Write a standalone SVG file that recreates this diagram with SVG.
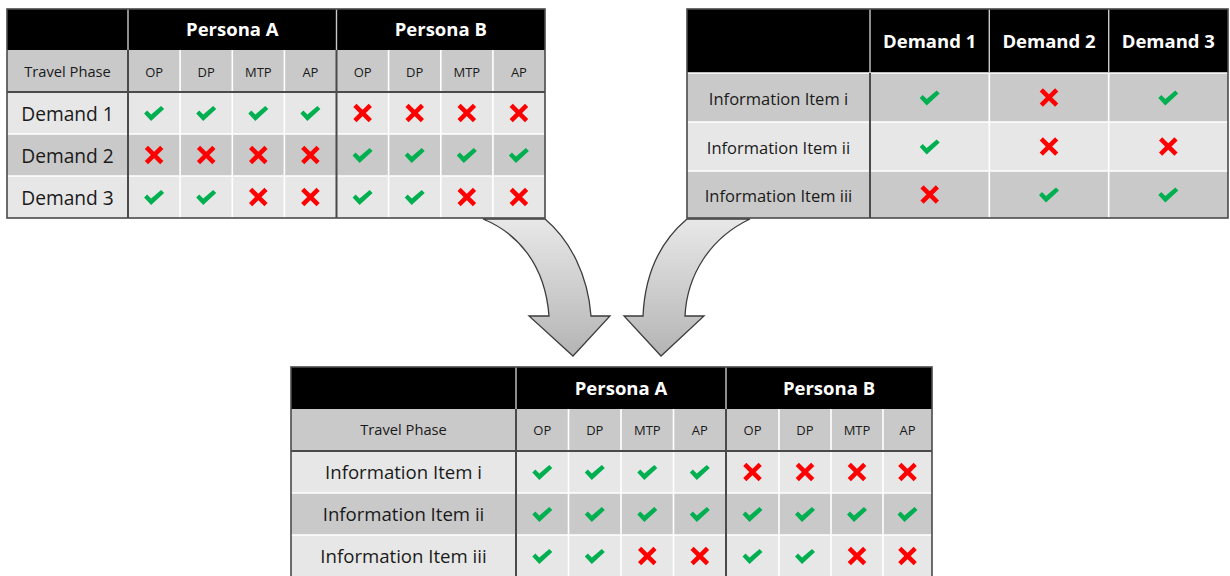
<svg xmlns="http://www.w3.org/2000/svg" width="1230" height="576" viewBox="0 0 1230 576">
  <style>
    text { font-family: "Open Sans", "Liberation Sans", sans-serif; fill: #1a1a1a; text-anchor: middle; }
    .hd { font-weight: 700; font-size: 18.5px; fill: #ffffff; }
    .tp { font-size: 14.7px; }
    .ph { font-size: 13px; }
    .lbA { font-size: 19.2px; }
    .lbB { font-size: 16.5px; }
    .lbC { font-size: 18.6px; }
    .blk { fill: #000000; }
    .mid { fill: #c9c9c9; }
    .lit { fill: #e7e7e7; }
    .wl { stroke: #ffffff; stroke-width: 1.6; fill: none; }
    .dl { stroke: #4a4a4a; stroke-width: 2; fill: none; }
    .hl { stroke: #c8c8c8; stroke-width: 1.4; fill: none; }
    .frame { stroke: #4a4a4a; stroke-width: 1.6; fill: none; }
    .arrow { fill: url(#arrowFill); stroke: #3c3c3c; stroke-width: 1.3; stroke-linejoin: miter; }
  </style>
  <defs>
    <linearGradient id="arrowFill" gradientUnits="userSpaceOnUse" x1="0" y1="219" x2="0" y2="356">
      <stop offset="0" stop-color="#e8e8e8"/>
      <stop offset="1" stop-color="#b4b4b4"/>
    </linearGradient>
    <!-- green tick -->
    <path id="ok" d="M-10,0 L-7,-3 L-3,1 L7,-7.5 L10,-4.5 L-3,7.5 Z" fill="#00b050"/>
    <!-- red cross -->
    <path id="no" d="M-7.7,-7.7 L7.7,7.7 M7.7,-7.7 L-7.7,7.7" stroke="#ff0000" stroke-width="4.5" fill="none"/>
  </defs>

  <rect width="1230" height="576" fill="#ffffff"/>

  <!-- curved arrows feeding the combined table -->
  <g id="connectors">
    <path class="arrow" d="M483,219 C515,232 545,262 549,316 L529,316 L573,356 L610,316 L591,316 C588,275 570,240 545,219 Z"/>
    <path class="arrow" d="M687,219 C662,240 645,272 643,316 L624,316 L661,356 L704,316 L685,316 C687,275 710,238 750,219 Z"/>
  </g>

  <!-- demands per persona and travel phase -->
  <g id="demand-by-persona">
    <rect class="blk" x="7" y="9" width="538" height="41"/>
    <rect class="mid" x="7" y="50" width="538" height="42"/>
    <rect class="lit" x="7" y="92" width="538" height="42"/>
    <rect class="mid" x="7" y="134" width="538" height="42"/>
    <rect class="lit" x="7" y="176" width="538" height="42"/>
    <path class="wl" d="M7,134 H545 M7,176 H545 M180.1,50 V218 M232.3,50 V218 M284.4,50 V218 M388.6,50 V218 M440.8,50 V218 M492.9,50 V218"/>
    <path class="hl" d="M128,9 V50 M336.5,9 V50"/>
    <path class="dl" d="M7,92 H545 M128,50 V218 M336.5,50 V218"/>
    <rect class="frame" x="7" y="9" width="538" height="209"/>
    <text class="hd" x="232.3" y="36">Persona A</text>
    <text class="hd" x="440.8" y="36">Persona B</text>
    <text class="tp" x="67.5" y="77">Travel Phase</text>
    <text class="ph" x="154.1" y="77">OP</text>
    <text class="ph" x="206.2" y="77">DP</text>
    <text class="ph" x="258.3" y="77">MTP</text>
    <text class="ph" x="310.4" y="77">AP</text>
    <text class="ph" x="362.6" y="77">OP</text>
    <text class="ph" x="414.7" y="77">DP</text>
    <text class="ph" x="466.8" y="77">MTP</text>
    <text class="ph" x="518.9" y="77">AP</text>
    <text class="lbA" x="67.5" y="121">Demand 1</text>
    <text class="lbA" x="67.5" y="163">Demand 2</text>
    <text class="lbA" x="67.5" y="205">Demand 3</text>
    <use href="#ok" x="154.1" y="113.5"/><use href="#ok" x="206.2" y="113.5"/><use href="#ok" x="258.3" y="113.5"/><use href="#ok" x="310.4" y="113.5"/>
    <use href="#no" x="362.6" y="113"/><use href="#no" x="414.7" y="113"/><use href="#no" x="466.8" y="113"/><use href="#no" x="518.9" y="113"/>
    <use href="#no" x="154.1" y="155"/><use href="#no" x="206.2" y="155"/><use href="#no" x="258.3" y="155"/><use href="#no" x="310.4" y="155"/>
    <use href="#ok" x="362.6" y="155.5"/><use href="#ok" x="414.7" y="155.5"/><use href="#ok" x="466.8" y="155.5"/><use href="#ok" x="518.9" y="155.5"/>
    <use href="#ok" x="154.1" y="197.5"/><use href="#ok" x="206.2" y="197.5"/><use href="#no" x="258.3" y="197"/><use href="#no" x="310.4" y="197"/>
    <use href="#ok" x="362.6" y="197.5"/><use href="#ok" x="414.7" y="197.5"/><use href="#no" x="466.8" y="197"/><use href="#no" x="518.9" y="197"/>
  </g>

  <!-- information items per demand -->
  <g id="items-by-demand">
    <rect class="blk" x="687" y="9" width="541" height="64"/>
    <rect class="mid" x="687" y="73" width="541" height="49"/>
    <rect class="lit" x="687" y="122" width="541" height="49"/>
    <rect class="mid" x="687" y="171" width="541" height="47"/>
    <path class="wl" d="M687,73 H1228 M687,122 H1228 M687,171 H1228 M989.3,73 V218 M1108.7,73 V218"/>
    <path class="hl" d="M870,9 V73 M989.3,9 V73 M1108.7,9 V73"/>
    <path class="dl" d="M870,73 V218"/>
    <rect class="frame" x="687" y="9" width="541" height="209"/>
    <text class="hd" x="929.7" y="48">Demand 1</text>
    <text class="hd" x="1049" y="48">Demand 2</text>
    <text class="hd" x="1168.3" y="48">Demand 3</text>
    <text class="lbB" x="778.5" y="105">Information Item i</text>
    <text class="lbB" x="778.5" y="154">Information Item ii</text>
    <text class="lbB" x="778.5" y="202">Information Item iii</text>
    <use href="#ok" x="929.7" y="98"/><use href="#no" x="1049" y="97.5"/><use href="#ok" x="1168.3" y="98"/>
    <use href="#ok" x="929.7" y="147"/><use href="#no" x="1049" y="146.5"/><use href="#no" x="1168.3" y="146.5"/>
    <use href="#no" x="929.7" y="194.5"/><use href="#ok" x="1049" y="195"/><use href="#ok" x="1168.3" y="195"/>
  </g>

  <!-- information items per persona and travel phase -->
  <g id="items-by-persona">
    <rect class="blk" x="291" y="367" width="641" height="42"/>
    <rect class="mid" x="291" y="409" width="641" height="42"/>
    <rect class="lit" x="291" y="451" width="641" height="42"/>
    <rect class="mid" x="291" y="493" width="641" height="42"/>
    <rect class="lit" x="291" y="535" width="641" height="42"/>
    <path class="wl" d="M291,493 H932 M291,535 H932 M568.5,409 V577 M621,409 V577 M673.5,409 V577 M779,409 V577 M831,409 V577 M883,409 V577"/>
    <path class="hl" d="M516,367 V409 M726,367 V409"/>
    <path class="dl" d="M291,451 H932 M516,409 V577 M726,409 V577"/>
    <rect class="frame" x="291" y="367" width="641" height="210"/>
    <text class="hd" x="621" y="395">Persona A</text>
    <text class="hd" x="829" y="395">Persona B</text>
    <text class="tp" x="403.5" y="435">Travel Phase</text>
    <text class="ph" x="542.3" y="435">OP</text>
    <text class="ph" x="594.8" y="435">DP</text>
    <text class="ph" x="647.3" y="435">MTP</text>
    <text class="ph" x="699.8" y="435">AP</text>
    <text class="ph" x="752.5" y="435">OP</text>
    <text class="ph" x="805" y="435">DP</text>
    <text class="ph" x="857" y="435">MTP</text>
    <text class="ph" x="907.5" y="435">AP</text>
    <text class="lbC" x="403.5" y="479">Information Item i</text>
    <text class="lbC" x="403.5" y="521">Information Item ii</text>
    <text class="lbC" x="403.5" y="563">Information Item iii</text>
    <use href="#ok" x="542.3" y="472.5"/><use href="#ok" x="594.8" y="472.5"/><use href="#ok" x="647.3" y="472.5"/><use href="#ok" x="699.8" y="472.5"/>
    <use href="#no" x="752.5" y="472"/><use href="#no" x="805" y="472"/><use href="#no" x="857" y="472"/><use href="#no" x="907.5" y="472"/>
    <use href="#ok" x="542.3" y="514.5"/><use href="#ok" x="594.8" y="514.5"/><use href="#ok" x="647.3" y="514.5"/><use href="#ok" x="699.8" y="514.5"/>
    <use href="#ok" x="752.5" y="514.5"/><use href="#ok" x="805" y="514.5"/><use href="#ok" x="857" y="514.5"/><use href="#ok" x="907.5" y="514.5"/>
    <use href="#ok" x="542.3" y="556.5"/><use href="#ok" x="594.8" y="556.5"/><use href="#no" x="647.3" y="556"/><use href="#no" x="699.8" y="556"/>
    <use href="#ok" x="752.5" y="556.5"/><use href="#ok" x="805" y="556.5"/><use href="#no" x="857" y="556"/><use href="#no" x="907.5" y="556"/>
  </g>
</svg>
